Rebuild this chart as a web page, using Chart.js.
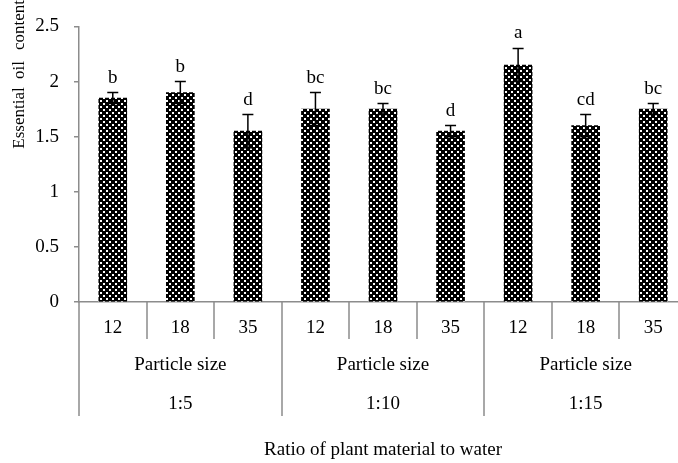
<!DOCTYPE html>
<html><head><meta charset="utf-8">
<script src="https://cdn.jsdelivr.net/npm/chart.js@4.4.0/dist/chart.umd.min.js"></script>
<style>
html,body{margin:0;padding:0;background:#fff;overflow:hidden;}
#wrap{position:relative;width:690px;height:463px;}
</style></head><body>
<div id="wrap"><canvas id="c" width="690" height="463"></canvas></div>
<script>
// ---- data ----
const particleSizes = ['12','18','35','12','18','35','12','18','35'];
const ratioGroups = ['1:5','1:10','1:15'];
const groupLabel = 'Particle size';
const oilContent = [1.85, 1.9, 1.55, 1.75, 1.75, 1.55, 2.15, 1.6, 1.75];
const errorValues = [0.05, 0.1, 0.15, 0.15, 0.05, 0.05, 0.15, 0.1, 0.05];
const letters = ['b','b','d','bc','bc','d','a','cd','bc'];
const yTicks = [0, 0.5, 1, 1.5, 2, 2.5];
const yTitleWords = ['Essential','oil','content'];
const xTitle = 'Ratio of plant material to water';

const FONT = 'Liberation Serif';
const AXIS = '#8c8c8c';
const canvas = document.getElementById('c');
const ctx0 = canvas.getContext('2d');

function makePattern(){
  const t = document.createElement('canvas'); t.width = 6; t.height = 6;
  const g = t.getContext('2d');
  g.fillStyle = '#000'; g.fillRect(0,0,6,6);
  g.fillStyle = '#fff';
  g.fillRect(1,1,2,2); g.fillRect(4,4,2,2);
  return ctx0.createPattern(t, 'repeat');
}

const decor = {
  id: 'decor',
  afterDatasetsDraw(chart){
    const {ctx, scales:{y}} = chart;
    const meta = chart.getDatasetMeta(0);
    ctx.save();
    ctx.strokeStyle = '#000'; ctx.lineWidth = 1.5;
    ctx.fillStyle = '#000';
    ctx.font = '19px "' + FONT + '"';
    ctx.textAlign = 'center'; ctx.textBaseline = 'alphabetic';
    meta.data.forEach((bar, i) => {
      const cx = bar.x, v = oilContent[i], e = errorValues[i];
      const yt = y.getPixelForValue(v + e), yb = y.getPixelForValue(v - e);
      ctx.beginPath();
      ctx.moveTo(cx, yt); ctx.lineTo(cx, yb);
      ctx.moveTo(cx - 5.5, yt); ctx.lineTo(cx + 5.5, yt);
      ctx.moveTo(cx - 5.5, yb); ctx.lineTo(cx + 5.5, yb);
      ctx.stroke();
      ctx.fillText(letters[i], cx, yt - 10);
    });
    ctx.restore();
  },
  afterDraw(chart){
    const {ctx, scales:{x}, chartArea} = chart;
    const base = chartArea.bottom;
    const w = x.getPixelForValue(1) - x.getPixelForValue(0);
    ctx.save();
    ctx.strokeStyle = AXIS; ctx.lineWidth = 1.5;
    ctx.beginPath();
    for (let i = 0; i <= particleSizes.length; i++){
      const px = Math.round(x.getPixelForValue(0) - w/2 + i*w);
      ctx.moveTo(px, base);
      ctx.lineTo(px, base + (i % 3 === 0 ? 114 : 37));
    }
    ctx.stroke();
    ctx.fillStyle = '#000';
    ctx.font = '19px "' + FONT + '"';
    ctx.textAlign = 'center'; ctx.textBaseline = 'middle';
    ratioGroups.forEach((r, g) => {
      const cx = (x.getPixelForValue(3*g) + x.getPixelForValue(3*g + 2)) / 2;
      ctx.fillText(groupLabel, cx, base + 63);
      ctx.fillText(r, cx, base + 102);
    });
    // y-axis title
    ctx.font = '17px "' + FONT + '"';
    ctx.translate(20, 0);
    ctx.rotate(-Math.PI/2);
    const pos = [118, 70, 25];
    yTitleWords.forEach((wd, i) => ctx.fillText(wd, -pos[i], 0));
    ctx.restore();
  }
};

new Chart(canvas, {
  type: 'bar',
  data: {
    labels: particleSizes,
    datasets: [{
      data: oilContent,
      backgroundColor: makePattern(),
      borderWidth: 0,
      barThickness: 28
    }]
  },
  options: {
    responsive: false,
    animation: false,
    layout: { padding: { top: 25, right: 3, bottom: 0, left: 0 } },
    plugins: { legend: { display: false }, tooltip: { enabled: false } },
    scales: {
      x: {
        type: 'category',
        offset: true,
        grid: { display: false, drawTicks: false },
        border: { display: true, color: AXIS, width: 1.5 },
        ticks: { color: '#000', font: { family: FONT, size: 19 }, padding: 15, maxRotation: 0, autoSkip: false },
        title: { display: true, text: xTitle, color: '#000', font: { family: FONT, size: 19 }, padding: { top: 0, bottom: 2 } },
        afterFit: s => { s.height = 161; }
      },
      y: {
        min: 0, max: 2.5,
        afterBuildTicks: s => { s.ticks = yTicks.map(v => ({ value: v })); },
        grid: { display: true, drawOnChartArea: false, drawTicks: true, tickLength: 5, color: AXIS, lineWidth: 1.5 },
        border: { display: true, color: AXIS, width: 1.5 },
        ticks: { color: '#000', font: { family: FONT, size: 19 }, padding: 15, callback: v => String(v) },
        afterFit: s => { s.width = 79; }
      }
    }
  },
  plugins: [decor]
});
</script>
</body></html>
